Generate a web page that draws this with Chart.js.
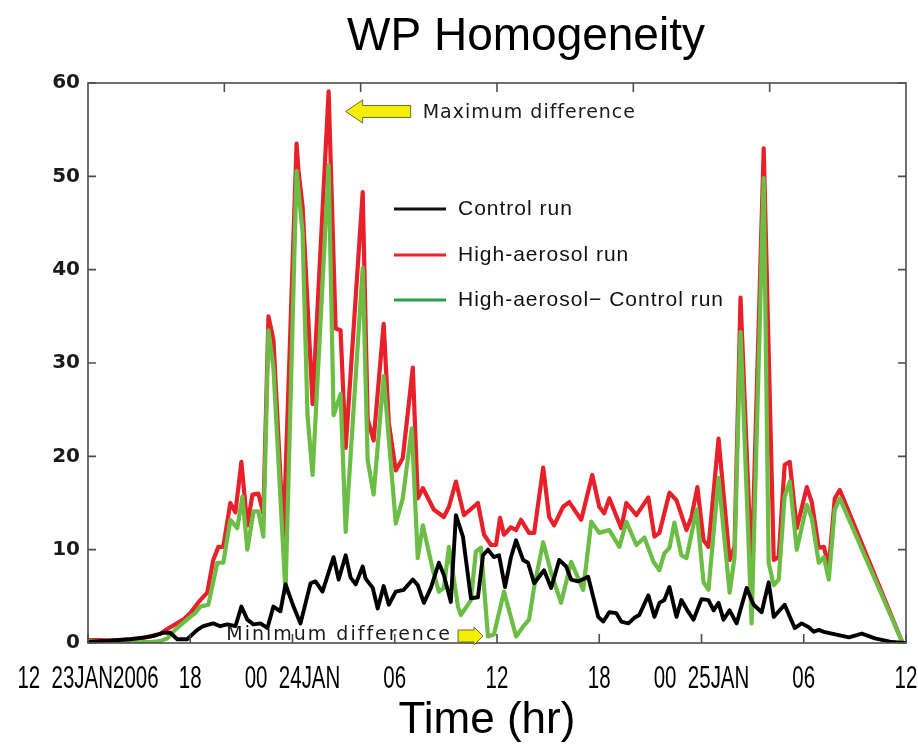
<!DOCTYPE html>
<html>
<head>
<meta charset="utf-8">
<title>WP Homogeneity</title>
<script src="https://cdn.jsdelivr.net/npm/chart.js@4"></script>
<style>
  html, body { margin: 0; padding: 0; background: #ffffff; }
  #wrap { width: 918px; height: 745px; }
</style>
</head>
<body>
<div id="wrap"><canvas id="chart" width="918" height="745"></canvas></div>
<script>
// Hours after 12 UTC 23 Jan 2006
const xTickHours = [0, 6, 12, 18, 24, 30, 36, 42, 48];
const xTickLabels = ['12  23JAN2006', '18', '00  24JAN', '06', '12', '18', '00  25JAN', '06', '12'];
const topTickHours = [8, 16, 24, 32, 40];
const yTickValues = [0, 10, 20, 30, 40, 50, 60];

// Control run
const controlHours = [0,0.71,1.59,2.47,3.35,3.94,4.41,4.82,5.24,5.82,6.41,6.76,7.35,7.76,8.18,8.65,9.0,9.35,9.71,10.12,10.53,10.88,11.29,11.59,12.06,12.47,13.06,13.35,13.76,14.41,14.71,15.12,15.41,15.71,16.12,16.29,16.71,17.0,17.35,17.65,18.06,18.53,19.06,19.35,19.71,20.12,20.59,20.88,21.29,21.59,22.0,22.47,22.88,23.18,23.47,23.82,24.12,24.47,24.82,25.12,25.53,25.82,26.18,26.76,27.18,27.65,28.06,28.35,28.76,29.35,29.94,30.24,30.59,31.0,31.29,31.71,32.06,32.35,32.88,33.24,33.53,33.82,34.12,34.53,34.82,35.24,35.53,36.0,36.41,36.71,37.0,37.29,37.65,38.06,38.65,39.06,39.53,39.94,40.24,40.88,41.47,41.88,42.29,42.59,42.88,43.18,44.65,45.41,46.18,47.18,47.9];
const controlValues = [0.1,0.2,0.3,0.4,0.6,0.8,1.1,1.1,0.4,0.4,1.4,1.8,2.1,1.8,2,1.8,3.9,2.5,2,2.1,1.6,3.9,3.4,6.3,3.9,2.1,6.4,6.6,5.5,9.2,6.8,9.4,7,6.3,8.2,6.9,5.9,3.7,6.1,4.1,5.5,5.7,6.8,6.2,4.3,5.9,8.6,7.3,4.4,13.7,11.4,4.8,4.9,9.4,10,9.2,9.4,6,9.2,11,8.9,8.6,6.4,7.8,5.9,8.9,8.2,6.8,6.6,7.1,2.8,2.3,3.3,3.2,2.3,2.1,2.7,3,5.1,2.8,4.3,4.6,6,2.8,4.6,3.3,2.5,4.7,4.6,3.5,4.3,2.5,3.5,2.1,5.9,4.1,3.3,6.5,2.8,4.1,1.6,2.1,1.7,1.2,1.4,1.2,0.6,1,0.5,0.1,0];

// High-aerosol run
const aerosolHours = [0,0.71,1.29,1.88,2.47,3.06,3.65,4.24,4.65,5.12,5.59,6.0,6.59,7.0,7.35,7.65,7.94,8.35,8.65,9.0,9.35,9.65,10.0,10.29,10.59,10.88,11.47,12.24,12.35,12.59,13.18,14.12,14.53,14.82,15.12,16.12,16.41,16.76,17.35,17.65,18.06,18.47,19.06,19.35,19.65,20.29,20.88,21.18,21.59,22.06,22.88,23.24,23.65,23.94,24.18,24.41,24.82,25.12,25.41,25.88,26.18,26.71,27.06,27.35,27.88,28.24,28.94,29.59,30.0,30.29,30.59,31.29,31.59,32.18,32.88,33.24,33.53,34.12,34.53,35.12,35.41,35.76,36.12,36.41,37.0,37.65,37.94,38.29,38.94,39.65,40.24,40.53,40.88,41.18,41.59,42.18,42.47,42.88,43.18,43.47,43.82,44.12,47.8];
const aerosolValues = [0.3,0.3,0.25,0.3,0.4,0.5,0.7,1.0,1.5,2.0,2.5,3.2,4.6,5.4,8.9,10.3,10.3,15,14,19.4,12.6,15.9,16,13.9,35,32.5,11.4,53.5,50.6,46.8,25.6,59.1,33.7,33.5,20.9,48.3,24,21.7,34.2,23.6,18.5,19.8,29.5,15.5,16.6,14.3,13.5,14.6,17.3,13.7,15,11.6,10.5,10.5,13.4,11.6,12.4,12.1,13.2,11.8,11.8,18.8,13.5,12.6,14.6,15.1,13.2,18,14.6,13.9,15.5,12.3,15,13.7,15.6,11.4,11.8,16.1,15.3,12.1,13.5,16.7,11,10.3,21.9,8.9,10.3,37,7.5,53,8.9,9.2,19.1,19.4,12.3,16.7,15.1,10.2,10.3,8.2,15.5,16.4,0];

// High-aerosol minus control
const diffHours = [0,0.71,1.88,3.06,3.65,4.24,4.65,5.0,5.41,6.0,6.29,6.59,7.06,7.59,7.94,8.35,8.76,9.06,9.35,9.71,10.0,10.29,10.59,10.88,11.59,12.24,12.59,12.88,13.18,14.12,14.41,14.82,15.12,16.12,16.41,16.76,17.35,18.06,18.47,19.0,19.35,19.65,20.24,20.59,20.88,21.18,21.71,21.88,22.47,22.76,23.06,23.47,23.82,24.41,25.12,25.59,25.88,26.18,26.71,27.18,27.76,28.35,29.06,29.53,30.0,30.59,31.18,31.59,32.18,32.65,33.18,33.53,33.82,34.12,34.41,34.82,35.12,35.71,36.12,36.41,37.0,37.65,37.94,38.29,38.94,39.65,39.94,40.24,40.53,40.88,41.18,41.59,42.18,42.47,42.88,43.18,43.47,43.82,44.12,47.8];
const diffValues = [0.2,0.1,0.1,0.1,0.1,0.2,0.5,1.2,1.9,2.8,3.2,3.9,4.1,8.6,8.6,13.2,12.3,15.7,10,14.1,14.1,11.4,33.5,29.5,5.4,50.6,44,24.4,18,51.2,24.4,26.7,11.9,40.2,19.6,15.9,28.6,12.8,15.5,23,9.1,12.6,7.8,5.5,5.9,10.3,3.9,3,4.6,9.8,10.2,0.7,0.9,5.5,0.7,1.9,2.5,6,10.8,7.5,4.3,8.7,5.7,13,11.8,12.1,10.3,13,10.5,11.3,8.7,7.8,9.6,10.2,12.9,9.4,9.1,14.3,6.5,5.7,17.7,5.4,9.2,33.3,2.1,49.8,8.6,6.2,6.8,15.7,17.3,10,14.8,13.4,8.6,9.2,6.8,14.3,15.5,0];

const legendLabels = ['Control run', 'High-aerosol run', 'High-aerosol\u2212 Control run'];
const legendColors = ['#111111', '#e8232b', '#27a046'];

const toPoints = (hours, values) => hours.map((h, i) => ({ x: h, y: values[i] }));

const frameColor = '#4d4d4d';

const decorations = {
  id: 'decorations',
  afterDraw(chart) {
    const { ctx, chartArea: a, scales } = chart;
    const xs = scales.x, ys = scales.y;
    ctx.save();

    // axis box
    ctx.strokeStyle = frameColor;
    ctx.lineWidth = 1.6;
    ctx.strokeRect(a.left, a.top, a.right - a.left, a.bottom - a.top);

    // inward tick marks
    ctx.beginPath();
    xTickHours.forEach(h => {
      const px = xs.getPixelForValue(h);
      ctx.moveTo(px, a.bottom); ctx.lineTo(px, a.bottom - 9);
    });
    topTickHours.forEach(h => {
      const px = xs.getPixelForValue(h);
      ctx.moveTo(px, a.top); ctx.lineTo(px, a.top + 9);
    });
    yTickValues.forEach(v => {
      const py = ys.getPixelForValue(v);
      ctx.moveTo(a.left, py); ctx.lineTo(a.left + 8, py);
      ctx.moveTo(a.right, py); ctx.lineTo(a.right - 8, py);
    });
    ctx.stroke();

    // condensed time labels
    ctx.fillStyle = '#000';
    ctx.font = '32px "Liberation Sans", Arial, sans-serif';
    ctx.textAlign = 'center';
    ctx.textBaseline = 'alphabetic';
    const squeeze = 0.64;
    xTickHours.forEach((h, i) => {
      const px = xs.getPixelForValue(h);
      ctx.save();
      ctx.translate(px, 688);
      ctx.scale(squeeze, 1);
      ctx.fillText(xTickLabels[i], 0, 0);
      ctx.restore();
    });

    // titles
    ctx.font = '46px "Liberation Sans", Arial, sans-serif';
    ctx.textAlign = 'center';
    ctx.fillText('WP Homogeneity', 526, 50);
    ctx.font = '44px "Liberation Sans", Arial, sans-serif';
    ctx.fillText('Time (hr)', 487, 733);

    // legend
    const legendY = [209, 255, 300];
    legendLabels.forEach((label, i) => {
      ctx.strokeStyle = legendColors[i];
      ctx.lineWidth = 3;
      ctx.beginPath();
      ctx.moveTo(394, legendY[i]); ctx.lineTo(446, legendY[i]);
      ctx.stroke();
      ctx.fillStyle = '#111';
      ctx.font = '21px "Liberation Sans", Arial, sans-serif';
      ctx.letterSpacing = '1px';
      ctx.textAlign = 'left';
      ctx.textBaseline = 'middle';
      ctx.fillText(label, 458, legendY[i]);
    });

    // annotation arrows
    const arrow = (tipX, tipY, dir, headLen, headHalf, shaftLen, shaftHalf) => {
      ctx.beginPath();
      ctx.moveTo(tipX, tipY);
      ctx.lineTo(tipX + dir * headLen, tipY - headHalf);
      ctx.lineTo(tipX + dir * headLen, tipY - shaftHalf);
      ctx.lineTo(tipX + dir * (headLen + shaftLen), tipY - shaftHalf);
      ctx.lineTo(tipX + dir * (headLen + shaftLen), tipY + shaftHalf);
      ctx.lineTo(tipX + dir * headLen, tipY + shaftHalf);
      ctx.lineTo(tipX + dir * headLen, tipY + headHalf);
      ctx.closePath();
      ctx.fillStyle = '#f4ee00';
      ctx.fill();
      ctx.strokeStyle = '#6b6b3a';
      ctx.lineWidth = 1;
      ctx.stroke();
    };
    const maxTipX = xs.getPixelForValue(15.12), maxTipY = ys.getPixelForValue(56.95);
    arrow(maxTipX, maxTipY, 1, 17, 11.5, 48, 6);
    const minTipX = xs.getPixelForValue(23.18), minTipY = ys.getPixelForValue(0.75);
    arrow(minTipX, minTipY, -1, 9, 9, 16, 6);

    ctx.fillStyle = '#1a1a1a';
    ctx.font = '19px "DejaVu Sans", Verdana, sans-serif';
    ctx.letterSpacing = '1px';
    ctx.textBaseline = 'middle';
    ctx.textAlign = 'left';
    ctx.fillText('Maximum difference', maxTipX + 77, maxTipY + 1.5);
    ctx.letterSpacing = '2px';
    ctx.textAlign = 'right';
    ctx.fillText('Minimum difference', minTipX - 31, minTipY - 1);
    ctx.restore();
  }
};

new Chart(document.getElementById('chart'), {
  type: 'line',
  data: {
    datasets: [
      {
        label: 'Control run',
        data: toPoints(controlHours, controlValues),
        borderColor: '#000000',
        borderWidth: 3.9,
        order: 0
      },
      {
        label: 'High-aerosol\u2212 Control run',
        data: toPoints(diffHours, diffValues),
        borderColor: '#6cbd45',
        borderWidth: 4.2,
        order: 1
      },
      {
        label: 'High-aerosol run',
        data: toPoints(aerosolHours, aerosolValues),
        borderColor: '#e8202a',
        borderWidth: 4.2,
        order: 2
      }
    ]
  },
  options: {
    responsive: false,
    animation: false,
    devicePixelRatio: 1,
    layout: { padding: { top: 83, right: 12, bottom: 0, left: 0 } },
    elements: {
      point: { radius: 0 },
      line: { tension: 0, fill: false, borderJoinStyle: 'round', borderCapStyle: 'round' }
    },
    plugins: {
      legend: { display: false },
      tooltip: { enabled: false },
      title: { display: false }
    },
    scales: {
      x: {
        type: 'linear',
        min: 0,
        max: 48,
        ticks: { display: false, stepSize: 6 },
        grid: { display: false },
        border: { display: false },
        afterFit(scale) { scale.height = 102; }
      },
      y: {
        min: 0,
        max: 60,
        ticks: {
          stepSize: 10,
          padding: 8,
          color: '#1a1a1a',
          font: { family: '"DejaVu Sans", Arial, sans-serif', size: 20, weight: 'bold' }
        },
        grid: { display: false, drawTicks: false },
        border: { display: false },
        afterFit(scale) { scale.width = 88; }
      }
    }
  },
  plugins: [decorations]
});
</script>
</body>
</html>
